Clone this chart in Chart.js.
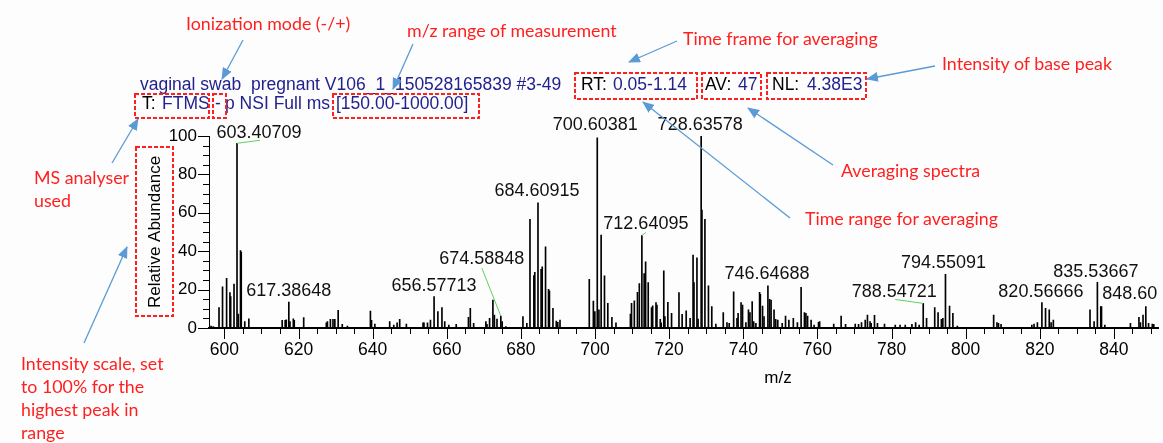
<!DOCTYPE html>
<html>
<head>
<meta charset="utf-8">
<script src="https://cdn.jsdelivr.net/npm/chart.js@4/dist/chart.umd.min.js"></script>
<style>
  html, body { margin: 0; padding: 0; background: #fdfdfd; }
  #wrap { position: relative; width: 1163px; height: 443px; overflow: hidden; }
  #spec { position: absolute; left: 0; top: 0; }
  svg { position: absolute; left: 0; top: 0; }
  .t { position: absolute; white-space: pre; line-height: 1.15; transform: translateY(-50%); }
  .note { font-family: Lato, "Open Sans", sans-serif; font-size: 17.8px; color: #ff1f1f; }
  .hdr { font-family: "Liberation Sans", Arial, sans-serif; font-size: 17.5px; color: #22228f; }
  .k { color: #000; }
</style>
</head>
<body>
<div id="wrap">
  <canvas id="spec" width="1163" height="443"></canvas>

  <!-- scan header -->
  <div class="t hdr" style="left:140px;top:84px">vaginal swab  pregnant V106_1_150528165839 #3-49</div>
  <div class="t hdr k" style="left:581px;top:84px">RT:</div>
  <div class="t hdr" style="left:613px;top:84px">0.05-1.14</div>
  <div class="t hdr k" style="left:705px;top:84px">AV:</div>
  <div class="t hdr" style="left:738px;top:84px">47</div>
  <div class="t hdr k" style="left:772px;top:84px">NL:</div>
  <div class="t hdr" style="left:807px;top:84px">4.38E3</div>
  <div class="t hdr k" style="left:142px;top:103px">T:</div>
  <div class="t hdr" style="left:162px;top:103px">FTMS</div>
  <div class="t hdr" style="left:215px;top:103px">-</div>
  <div class="t hdr" style="left:225px;top:103px">p NSI Full ms</div>
  <div class="t hdr" style="left:336px;top:103px">[150.00-1000.00]</div>

  <!-- explanatory notes -->
  <div class="t note" style="left:186px;top:23px">Ionization mode (-/+)</div>
  <div class="t note" style="left:407px;top:30px">m/z range of measurement</div>
  <div class="t note" style="left:683px;top:38px">Time frame for averaging</div>
  <div class="t note" style="left:942px;top:63px">Intensity of base peak</div>
  <div class="t note" style="left:34px;top:177px">MS analyser</div>
  <div class="t note" style="left:34px;top:200px">used</div>
  <div class="t note" style="left:841px;top:170px">Averaging spectra</div>
  <div class="t note" style="left:805px;top:218px">Time range for averaging</div>
  <div class="t note" style="left:21px;top:363px">Intensity scale, set</div>
  <div class="t note" style="left:21px;top:386px">to 100% for the</div>
  <div class="t note" style="left:21px;top:409px">highest peak in</div>
  <div class="t note" style="left:21px;top:432px">range</div>

  <svg width="1163" height="443">
    <defs>
      <marker id="head" markerWidth="12" markerHeight="10" refX="11" refY="5" orient="auto" markerUnits="userSpaceOnUse">
        <path d="M0,0 L12,5 L0,10 z" fill="#5b9bd5"/>
      </marker>
    </defs>
    <g fill="none" stroke="#ff1f1f" stroke-width="2" stroke-dasharray="4 2">
      <rect x="135" y="94" width="74" height="24"/>
      <rect x="213" y="94" width="13" height="24"/>
      <rect x="333" y="94" width="146" height="24"/>
      <rect x="575" y="73" width="122" height="26"/>
      <rect x="702" y="73" width="59" height="26"/>
      <rect x="767" y="73" width="99" height="26"/>
      <rect x="136" y="147" width="37" height="169"/>
    </g>
    <g stroke="#5b9bd5" stroke-width="1.3" marker-end="url(#head)">
      <line x1="243" y1="40" x2="222" y2="79"/>
      <line x1="413" y1="44" x2="393" y2="89"/>
      <line x1="677" y1="41" x2="629" y2="62"/>
      <line x1="935" y1="66" x2="867" y2="79"/>
      <line x1="790" y1="218" x2="643" y2="102"/>
      <line x1="833" y1="165" x2="748" y2="108"/>
      <line x1="112" y1="163" x2="138" y2="119"/>
      <line x1="84" y1="343" x2="127" y2="247"/>
    </g>
  </svg>
</div>

<script>
// Averaged FTMS spectrum, m/z 596-852, relative abundance (%)
const spectrumMz = [
  596.4, 597.0, 598.55, 599.5, 600.6, 601.5, 601.7, 602.6, 603.40709, 603.75,
  604.35, 604.55, 605.5, 606.6, 615.6, 616.4, 616.7, 617.38648, 617.7, 618.6,
  618.85, 621.4, 627.5, 627.8, 628.6, 629.3, 629.8, 630.7, 631.8, 633.2,
  639.4, 639.7, 640.6, 644.6, 645.7, 646.6, 647.3, 649.1, 653.6, 653.85,
  654.8, 655.6, 656.57713, 657.6, 658.7, 659.45, 660.55, 662.55, 665.85, 666.35,
  667.25, 670.55, 670.85, 671.55, 672.45, 672.85, 673.55, 674.58848, 674.95, 675.95,
  680.55, 681.6, 682.45, 683.5, 683.75, 684.60915, 685.45, 685.75, 686.65, 687.45,
  687.7, 688.65, 689.55, 689.95, 690.55, 698.45, 699.55, 699.95, 700.60381, 701.05,
  701.65, 702.55, 703.45, 704.55, 705.65, 709.55, 709.85, 710.6, 711.45, 711.95,
  712.64095, 713.25, 713.65, 714.35, 715.25, 715.55, 716.45, 716.7, 717.6, 717.85,
  718.55, 718.85, 719.65, 720.65, 722.65, 723.5, 724.6, 725.65, 726.45, 726.7,
  727.5, 727.8, 728.63578, 728.85, 729.65, 730.6, 731.5, 732.6, 734.6, 735.6,
  736.2, 737.4, 738.3, 738.6, 739.4, 739.8, 740.7, 741.4, 741.8, 742.4,
  742.8, 743.4, 744.4, 744.6, 745.2, 745.6, 746.64688, 747.1, 747.5, 748.3,
  748.75, 749.3, 750.5, 751.4, 752.3, 753.5, 754.6, 755.6, 756.5, 756.9,
  757.35, 758.3, 759.1, 760.3, 760.6, 764.4, 766.4, 767.6, 770.2, 771.1,
  771.9, 772.9, 773.5, 774.2, 774.5, 775.4, 776.2, 778.1, 781.0, 782.3,
  783.7, 785.5, 786.5, 787.45, 788.54721, 789.45, 791.65, 792.55, 793.45, 793.85,
  794.55091, 795.65, 796.55, 797.75, 807.55, 808.45, 808.85, 809.55, 817.85, 818.45,
  819.35, 820.56666, 821.55, 822.55, 823.05, 823.65, 833.55, 834.65, 835.53667, 836.45,
  836.65, 837.55, 844.45, 846.75, 847.15, 847.85, 848.60, 849.35, 850.35, 850.75
];
const spectrumAbundance = [
  1.0, 0.7, 10.7, 21.5, 25.9, 18.4, 16.3, 22.9, 96.2, 7.3,
  40.3, 39.5, 3.3, 4.8, 4.0, 4.0, 4.3, 13.5, 3.3, 4.8,
  4.0, 5.4, 2.7, 3.3, 4.5, 4.5, 4.5, 9.2, 1.9, 1.0,
  8.8, 4.0, 2.0, 3.3, 1.5, 2.7, 4.5, 2.1, 2.7, 2.7,
  2.7, 4.1, 16.3, 8.5, 10.7, 3.3, 1.5, 1.9, 5.5, 10.2,
  2.4, 3.3, 1.9, 5.0, 14.6, 6.7, 4.7, 6.2, 3.3, 0.7,
  5.9, 2.4, 56.6, 27.3, 29.0, 65.2, 30.5, 31.9, 42.3, 20.1,
  19.4, 10.2, 3.6, 2.9, 4.1, 25.3, 14.0, 8.5, 99.1, 9.4,
  48.4, 27.2, 12.8, 5.5, 2.7, 7.3, 12.8, 14.2, 18.6, 23.2,
  48.2, 28.4, 34.5, 23.6, 10.6, 11.6, 13.2, 12.0, 4.5, 2.7,
  29.8, 5.9, 13.4, 7.6, 18.4, 7.1, 9.0, 5.0, 38.0, 23.6,
  36.6, 4.7, 100.0, 61.4, 56.6, 22.0, 11.1, 2.1, 8.0, 2.8,
  2.4, 18.9, 5.0, 7.6, 13.2, 12.0, 2.8, 9.4, 8.0, 13.7,
  3.3, 2.4, 18.6, 17.5, 11.4, 5.9, 22.0, 14.9, 14.6, 9.4,
  4.5, 4.1, 2.4, 6.2, 4.1, 5.0, 2.8, 21.2, 8.0, 7.6,
  6.2, 4.1, 1.5, 2.9, 3.3, 2.1, 6.2, 1.9, 2.1, 1.9,
  2.8, 4.1, 6.7, 3.3, 2.4, 6.6, 2.4, 2.1, 1.5, 1.5,
  1.5, 1.9, 2.8, 1.5, 12.8, 5.0, 10.6, 8.0, 4.5, 5.0,
  27.9, 11.4, 7.6, 1.0, 6.7, 2.8, 2.4, 1.9, 1.5, 2.1,
  2.8, 13.2, 10.2, 9.4, 2.8, 4.1, 9.4, 3.3, 23.8, 11.1,
  11.1, 1.5, 2.4, 5.5, 2.8, 6.7, 11.1, 2.4, 2.1, 1.9
];

// Annotated peaks (the label text is the peak's m/z)
const peakLabels = [
  "603.40709", "617.38648", "656.57713", "674.58848", "684.60915", "700.60381", "712.64095",
  "728.63578", "746.64688", "788.54721", "794.55091", "820.56666", "835.53667", "848.60"
];

// Axis tick labels
const xTickLabels = [600, 620, 640, 660, 680, 700, 720, 740, 760, 780, 800, 820, 840];
const yTickLabels = [0, 20, 40, 60, 80, 100];

// Label placement relative to the top of its peak (px), and optional leader-line ends
const labelShift = {
  "603.40709": [22, 1], "617.38648": [0, 0], "656.57713": [0, 1], "674.58848": [-19, -46],
  "684.60915": [-1, 0], "700.60381": [-2, -1], "712.64095": [4, 0], "728.63578": [-1, 0.5],
  "746.64688": [-1, 0], "788.54721": [-29, 0], "794.55091": [-2, 0], "820.56666": [-1, 0.5],
  "835.53667": [-1.5, 1], "848.60": [-16, -1]
};
const leaderEnd = {
  "603.40709": [23, -3], "674.58848": [-19, -48], "712.64095": [4, -3], "788.54721": [-28, -4]
};

const FONT = '"Liberation Sans", Arial, sans-serif';

const tickMarks = {
  id: 'tickMarks',
  afterDraw(chart) {
    const { ctx, chartArea: a, scales: { x, y } } = chart;
    ctx.save();
    ctx.strokeStyle = '#000';
    ctx.lineWidth = 1;
    ctx.beginPath();
    x.ticks.forEach(t => {
      const px = Math.round(x.getPixelForValue(t.value)) + 0.5;
      const len = xTickLabels.includes(t.value) ? 11 : 6;
      ctx.moveTo(px, a.bottom);
      ctx.lineTo(px, a.bottom + len);
    });
    y.ticks.forEach(t => {
      const py = Math.round(y.getPixelForValue(t.value)) + 0.5;
      const len = yTickLabels.includes(t.value) ? 11 : 6;
      ctx.moveTo(a.left, py);
      ctx.lineTo(a.left - len, py);
    });
    ctx.stroke();
    // x-axis title
    ctx.fillStyle = '#000';
    ctx.font = '17px ' + FONT;
    ctx.textAlign = 'center';
    ctx.textBaseline = 'middle';
    ctx.fillText('m/z', 778, 378);
    ctx.restore();
  }
};

const peakAnnotations = {
  id: 'peakAnnotations',
  afterDatasetsDraw(chart) {
    const { ctx, scales: { x, y } } = chart;
    ctx.save();
    ctx.font = '18px ' + FONT;
    ctx.fillStyle = '#111';
    ctx.textAlign = 'center';
    ctx.textBaseline = 'middle';
    peakLabels.forEach(lab => {
      const mz = parseFloat(lab);
      const i = spectrumMz.indexOf(mz);
      const px = x.getPixelForValue(mz);
      const py = y.getPixelForValue(spectrumAbundance[i]);
      const [dx, dy] = labelShift[lab];
      ctx.fillText(lab, px + dx, py - 11.5 + dy);
      const le = leaderEnd[lab];
      if (le) {
        ctx.strokeStyle = '#5fcf5f';
        ctx.lineWidth = 1;
        ctx.beginPath();
        ctx.moveTo(px, py);
        ctx.lineTo(px + le[0], py + le[1]);
        ctx.stroke();
      }
    });
    ctx.restore();
  }
};

function stepTicks(scale, lo, hi) {
  const ticks = [];
  for (let v = lo; v <= hi; v += 5) ticks.push({ value: v });
  scale.ticks = ticks;
}

new Chart(document.getElementById('spec'), {
  type: 'bar',
  data: {
    datasets: [{
      data: spectrumMz.map((m, i) => ({ x: m, y: spectrumAbundance[i] })),
      backgroundColor: '#000',
      borderWidth: 0,
      barThickness: 1
    }]
  },
  options: {
    responsive: false,
    animation: false,
    events: [],
    layout: { padding: { top: 136, right: 1, left: 0, bottom: 0 } },
    plugins: { legend: { display: false }, tooltip: { enabled: false } },
    scales: {
      x: {
        type: 'linear',
        min: 595.85,
        max: 852,
        offset: false,
        grid: { display: false, drawTicks: false },
        border: { display: true, color: '#000', width: 2 },
        afterBuildTicks: s => stepTicks(s, 600, 850),
        afterFit: s => { s.height = 443 - 328; },
        ticks: {
          autoSkip: false,
          maxRotation: 0,
          padding: 12,
          color: '#000',
          font: { family: FONT, size: 17.5 },
          callback: v => xTickLabels.includes(v) ? String(v) : ''
        }
      },
      y: {
        min: 0,
        max: 100,
        grid: { display: false, drawTicks: false },
        border: { display: true, color: '#000', width: 1 },
        afterBuildTicks: s => stepTicks(s, 0, 100),
        afterFit: s => { s.width = 209; },
        title: {
          display: true,
          text: 'Relative Abundance',
          color: '#000',
          font: { family: FONT, size: 17 },
          padding: { top: 145, bottom: 0 }
        },
        ticks: {
          autoSkip: false,
          padding: 12,
          color: '#000',
          font: { family: FONT, size: 17 },
          callback: v => yTickLabels.includes(v) ? String(v) : ''
        }
      }
    }
  },
  plugins: [tickMarks, peakAnnotations]
});
</script>
</body>
</html>
